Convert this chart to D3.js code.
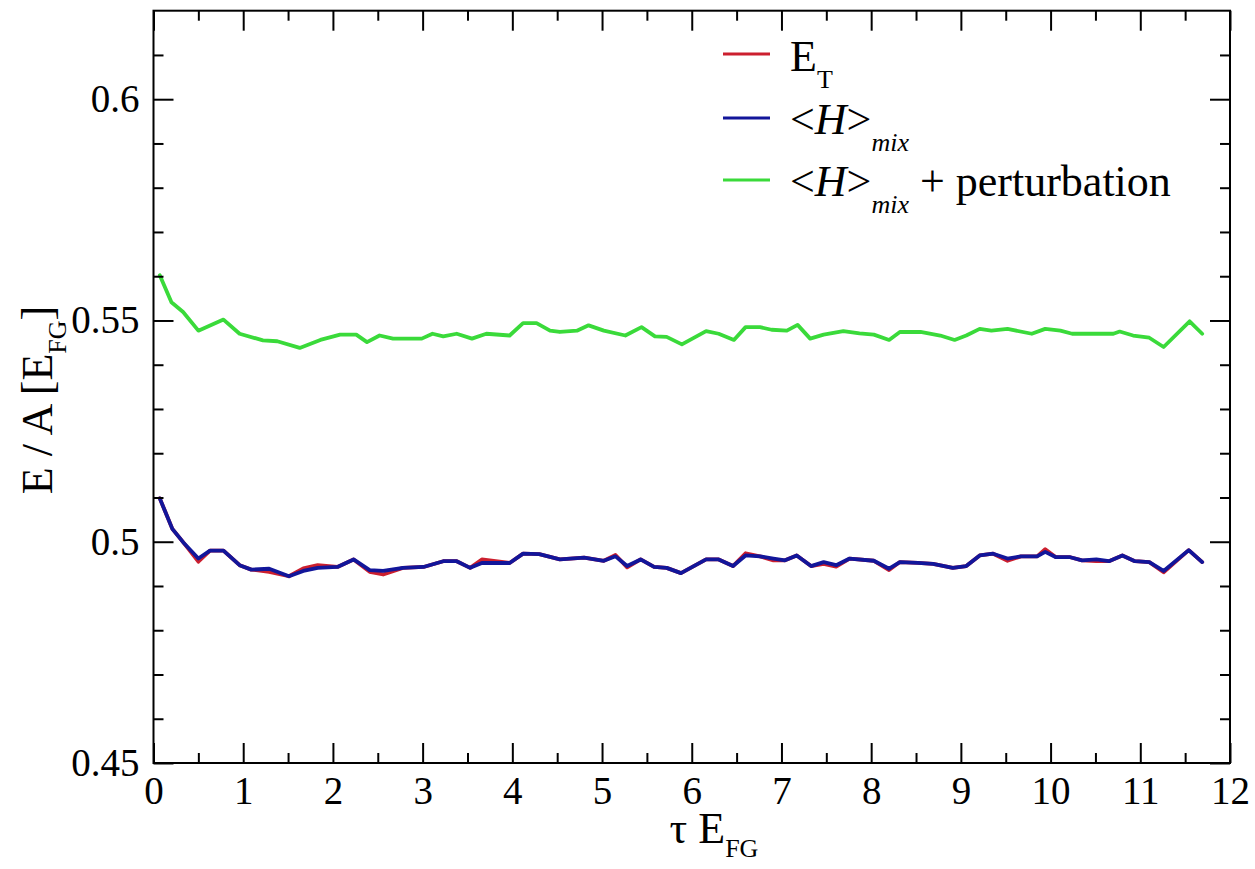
<!DOCTYPE html>
<html>
<head>
<meta charset="utf-8">
<script src="https://cdn.jsdelivr.net/npm/d3@7"></script>
<style>
  html, body { margin: 0; padding: 0; background: #fff; }
  svg { display: block; }
  text { font-family: "Liberation Serif", "DejaVu Serif", serif; fill: #000; }
</style>
</head>
<body>
<svg id="chart" width="1255" height="869"></svg>
<script>
// Imaginary-time evolution of the energy per particle
const tauMix = [0.07,0.21,0.33,0.50,0.63,0.78,0.96,1.09,1.29,1.51,1.67,1.83,2.05,2.23,2.41,2.56,2.78,3.01,3.23,3.38,
  3.53,3.66,3.97,4.12,4.30,4.53,4.80,5.02,5.15,5.28,5.43,5.58,5.72,5.88,6.16,6.30,6.46,6.60,6.76,6.91,
  7.04,7.17,7.33,7.47,7.61,7.76,8.03,8.20,8.32,8.52,8.69,8.91,9.06,9.21,9.36,9.52,9.67,9.85,9.94,10.06,
  10.22,10.35,10.51,10.65,10.80,10.94,11.10,11.26,11.54,11.69];

// E_T (trial energy)
const etValues = [0.5098,0.5029,0.4999,0.4955,0.4980,0.4980,0.4947,0.4937,0.4932,0.4922,
  0.4940,0.4947,0.4943,0.4960,0.4932,0.4926,0.4941,0.4943,0.4956,0.4956,
  0.4941,0.4960,0.4952,0.4973,0.4972,0.4960,0.4964,0.4957,0.4970,0.4942,
  0.4960,0.4943,0.4941,0.4929,0.4960,0.4960,0.4945,0.4974,0.4967,0.4958,
  0.4958,0.4969,0.4945,0.4950,0.4944,0.4962,0.4957,0.4936,0.4954,0.4952,
  0.4950,0.4941,0.4945,0.4969,0.4973,0.4957,0.4967,0.4967,0.4983,0.4965,
  0.4965,0.4958,0.4956,0.4956,0.4969,0.4956,0.4954,0.4931,0.4981,0.4954];

// <H>_mix (mixed estimator)
const mixValues = [0.5098,0.5029,0.4999,0.4962,0.4980,0.4980,0.4947,0.4937,0.4939,0.4922,
  0.4934,0.4941,0.4943,0.4960,0.4936,0.4934,0.4941,0.4943,0.4956,0.4956,
  0.4941,0.4952,0.4952,0.4973,0.4972,0.4960,0.4964,0.4957,0.4967,0.4945,
  0.4960,0.4943,0.4941,0.4929,0.4960,0.4960,0.4945,0.4969,0.4967,0.4962,
  0.4958,0.4969,0.4945,0.4954,0.4947,0.4962,0.4957,0.4939,0.4954,0.4952,
  0.4950,0.4941,0.4945,0.4969,0.4973,0.4962,0.4967,0.4967,0.4977,0.4965,
  0.4965,0.4958,0.4960,0.4956,0.4969,0.4956,0.4954,0.4934,0.4981,0.4954];

// <H>_mix + perturbation
const tauPert = [0.07,0.20,0.33,0.50,0.78,0.96,1.22,1.38,1.63,1.86,2.08,2.26,2.38,2.52,2.67,2.99,3.11,3.23,3.38,3.55,
  3.71,3.97,4.12,4.27,4.42,4.53,4.72,4.85,5.02,5.26,5.44,5.59,5.72,5.89,6.16,6.30,6.47,6.60,6.76,6.89,
  7.06,7.18,7.32,7.47,7.69,7.87,8.03,8.20,8.32,8.55,8.77,8.93,9.06,9.21,9.34,9.52,9.79,9.94,10.11,10.24,
  10.70,10.77,10.92,11.10,11.26,11.55,11.69];
const pertValues = [0.5602,0.5541,0.5519,0.5477,0.5502,0.5470,0.5455,0.5453,0.5438,0.5456,
  0.5468,0.5468,0.5451,0.5466,0.5459,0.5459,0.5470,0.5464,0.5470,0.5459,
  0.5470,0.5466,0.5494,0.5494,0.5477,0.5474,0.5477,0.5489,0.5477,0.5466,
  0.5485,0.5464,0.5463,0.5446,0.5476,0.5470,0.5456,0.5485,0.5485,0.5479,
  0.5477,0.5490,0.5459,0.5468,0.5476,0.5471,0.5468,0.5456,0.5474,0.5474,
  0.5466,0.5456,0.5466,0.5481,0.5477,0.5481,0.5470,0.5481,0.5477,0.5470,
  0.5470,0.5475,0.5466,0.5461,0.5440,0.5498,0.5470];

// Axis ticks and labels
const xMajor = [0,1,2,3,4,5,6,7,8,9,10,11,12];
const xMinor = [0.5,1.5,2.5,3.5,4.5,5.5,6.5,7.5,8.5,9.5,10.5,11.5];
const xLabels = ["0","1","2","3","4","5","6","7","8","9","10","11","12"];
const yMajor = [0.45,0.5,0.55,0.6];
const yMinor = [0.46,0.47,0.48,0.49,0.51,0.52,0.53,0.54,0.56,0.57,0.58,0.59,0.61];
const yLabels = ["0.45","0.5","0.55","0.6"];

const colors = { et: "#cc1f2e", mix: "#12169a", pert: "#3ada3a" };
const FONT = "Liberation Serif, DejaVu Serif, serif";

const svg = d3.select("#chart").attr("font-family", FONT);
const L = 153.5, R = 1230, T = 10.7, B = 763;

const x = d3.scaleLinear().domain([0, 12]).range([L, R]);
const y = d3.scaleLinear().domain([0.45, 0.62]).range([B, T]);

svg.append("rect").attr("width", 1255).attr("height", 869).attr("fill", "#fff");

// data lines
const line = d3.line().x(d => x(d[0])).y(d => y(d[1]));
function series(taus, vals, color) {
  svg.append("path")
    .datum(taus.map((t, i) => [t, vals[i]]))
    .attr("d", line)
    .attr("fill", "none")
    .attr("stroke", color)
    .attr("stroke-width", 3.8)
    .attr("stroke-linejoin", "round")
    .attr("stroke-linecap", "round");
}
series(tauPert, pertValues, colors.pert);
series(tauMix, etValues, colors.et);
series(tauMix, mixValues, colors.mix);

// axes with inward ticks on all four sides
function styleAxis(g) {
  g.attr("font-family", FONT);
  g.select(".domain").remove();
  g.selectAll("line").attr("stroke", "#000").attr("stroke-width", 2);
}
const majLen = 20, minLen = 10;

const gxB = svg.append("g").attr("transform", `translate(0,${B})`)
  .call(d3.axisBottom(x).tickValues(xMajor).tickSize(-majLen).tickPadding(13)
    .tickFormat((d, i) => xLabels[i]));
svg.append("g").attr("transform", `translate(0,${B})`)
  .call(d3.axisBottom(x).tickValues(xMinor).tickSize(-minLen).tickFormat("")).call(styleAxis);
svg.append("g").attr("transform", `translate(0,${T})`)
  .call(d3.axisTop(x).tickValues(xMajor).tickSize(-majLen).tickFormat("")).call(styleAxis);
svg.append("g").attr("transform", `translate(0,${T})`)
  .call(d3.axisTop(x).tickValues(xMinor).tickSize(-minLen).tickFormat("")).call(styleAxis);

const gyL = svg.append("g").attr("transform", `translate(${L},0)`)
  .call(d3.axisLeft(y).tickValues(yMajor).tickSize(-majLen).tickPadding(14)
    .tickFormat((d, i) => yLabels[i]));
svg.append("g").attr("transform", `translate(${L},0)`)
  .call(d3.axisLeft(y).tickValues(yMinor).tickSize(-minLen).tickFormat("")).call(styleAxis);
svg.append("g").attr("transform", `translate(${R},0)`)
  .call(d3.axisRight(y).tickValues(yMajor).tickSize(-majLen).tickFormat("")).call(styleAxis);
svg.append("g").attr("transform", `translate(${R},0)`)
  .call(d3.axisRight(y).tickValues(yMinor).tickSize(-minLen).tickFormat("")).call(styleAxis);

[gxB, gyL].forEach(g => {
  styleAxis(g);
  g.selectAll("text").attr("font-family", FONT).attr("font-size", 39).attr("fill", "#000");
});

// frame
svg.append("rect").attr("x", L).attr("y", T).attr("width", R - L).attr("height", B - T)
  .attr("fill", "none").attr("stroke", "#000").attr("stroke-width", 2);

// axis titles
const xt = svg.append("text").attr("x", 714).attr("y", 843).attr("text-anchor", "middle")
  .attr("font-size", 44);
xt.append("tspan").text("τ E");
xt.append("tspan").attr("font-size", 26).attr("dy", 14).text("FG");

const yt = svg.append("text").attr("transform", "translate(52,400) rotate(-90)")
  .attr("text-anchor", "middle").attr("font-size", 44);
yt.append("tspan").text("E / A [E");
yt.append("tspan").attr("font-size", 26).attr("dy", 14).text("FG");
yt.append("tspan").attr("dy", -14).text("]");

// legend
const legend = [
  { color: colors.et, y: 54 },
  { color: colors.mix, y: 118 },
  { color: colors.pert, y: 180 }
];
legend.forEach(d => {
  svg.append("line").attr("x1", 723).attr("x2", 770).attr("y1", d.y).attr("y2", d.y)
    .attr("stroke", d.color).attr("stroke-width", 3);
});
const lx = 790;
const t1 = svg.append("text").attr("x", lx).attr("y", legend[0].y + 17).attr("font-size", 44);
t1.append("tspan").text("E");
t1.append("tspan").attr("font-size", 26).attr("dy", 17).text("T");

function mixLabel(yy, extra) {
  const t = svg.append("text").attr("x", lx).attr("y", yy).attr("font-size", 44);
  t.append("tspan").text("<");
  t.append("tspan").attr("font-style", "italic").text("H");
  t.append("tspan").text(">");
  t.append("tspan").attr("font-style", "italic").attr("font-size", 26).attr("dy", 17).text("mix");
  if (extra) t.append("tspan").attr("dy", -17).text(extra);
}
mixLabel(legend[1].y + 16, null);
mixLabel(legend[2].y + 16, "\u00a0+ perturbation");
</script>
</body>
</html>
